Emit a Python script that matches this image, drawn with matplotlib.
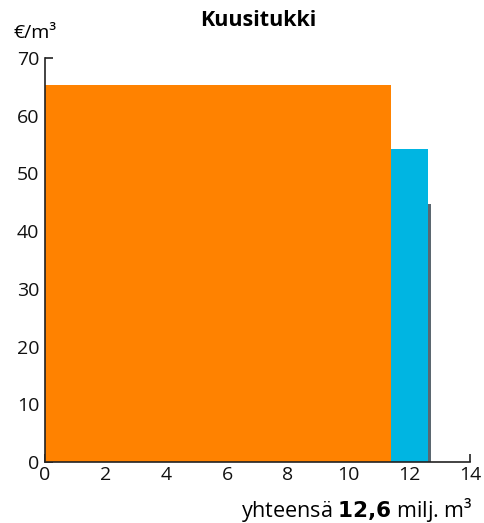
import matplotlib
matplotlib.use("Agg")
import matplotlib.pyplot as plt

# data: variable-width bars (volume in milj. m3, price €/m3)
lefts = [0.0, 11.40, 12.62]
widths = [11.40, 1.22, 0.08]
prices = [65.3, 54.2, 44.7]
colors = ["#FF8200", "#00B5E2", "#5B6770"]
xticks = [0, 2, 4, 6, 8, 10, 12, 14]
yticks = [0, 10, 20, 30, 40, 50, 60, 70]

plt.rcParams['font.family'] = ['Open Sans', 'DejaVu Sans']

fig = plt.figure(figsize=(4.85, 5.23), dpi=100)
ax = fig.add_axes([45/485, 1-462/523, 425/485, 404/523])

ax.bar(lefts, prices, width=widths, align='edge', color=colors, linewidth=0, zorder=2)

ax.set_xlim(0, 14)
ax.set_ylim(0, 70)
ax.set_xticks(xticks)
ax.set_yticks(yticks)
ax.tick_params(direction='in', length=6, width=1.2, labelsize=14, color='#222222', labelcolor='#111111')
ax.tick_params(axis='x', pad=3)
ax.tick_params(axis='y', pad=4)
for s in ['top', 'right']:
    ax.spines[s].set_visible(False)
for s in ['left', 'bottom']:
    ax.spines[s].set_linewidth(1.2)
    ax.spines[s].set_color('#222222')
    ax.spines[s].set_zorder(3)

fig.text(258/485, 1-21/523, "Kuusitukki", ha='center', va='center', fontsize=15.5, fontweight='bold')
fig.text(14/485, 1-33/523, "€/m³", ha='left', va='center', fontsize=14)
fig.text(473/485, 1-510/523, "yhteensä $\\bf{12{,}6}$ milj. m³", ha='right', va='center', fontsize=15.5)

fig.savefig("out.png", dpi=100)
